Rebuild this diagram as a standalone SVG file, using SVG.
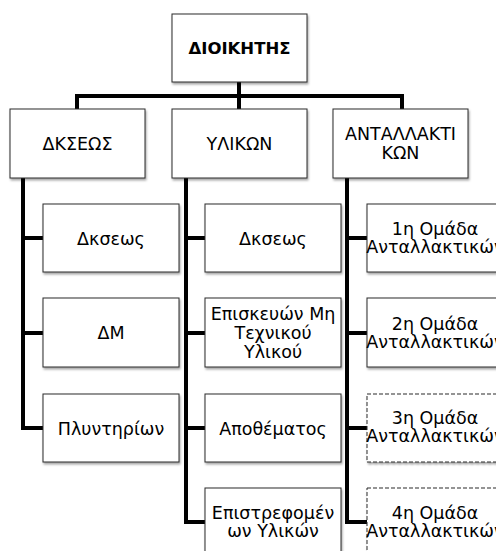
<svg xmlns="http://www.w3.org/2000/svg" width="496" height="551" viewBox="0 0 496 551">
<defs>
<filter id="sh" x="-10%" y="-10%" width="130%" height="140%">
<feDropShadow dx="1" dy="2" stdDeviation="1" flood-color="#000" flood-opacity="0.35"/>
</filter>
<style>
.box{fill:#fff;stroke:#2b2b2b;stroke-width:1;filter:url(#sh)}
.dash{stroke-dasharray:4 2}
.t{font-family:"DejaVu Sans","Liberation Sans",sans-serif;font-size:17.5px;fill:#000;text-anchor:middle}
.b{font-weight:bold;font-size:16.5px}
.ln{fill:none;stroke:#000;stroke-width:4;stroke-linejoin:miter;stroke-linecap:butt}
</style>
</defs>
<rect width="496" height="551" fill="#fff"/>
<g id="connectors">
<path class="ln" d="M239 82 V109"/>
<path class="ln" d="M77 109 V96 H402 V109"/>
<path class="ln" d="M23 178 V428 H43 M23 238 H43 M23 333 H43"/>
<path class="ln" d="M186 178 V522 H205 M186 238 H205 M186 333 H205 M186 428 H205"/>
<path class="ln" d="M347 178 V522 H367 M347 238 H367 M347 333 H367 M347 428 H367"/>
</g>
<g id="n-dioikitis"><rect class="box" x="172" y="14" width="135" height="68"/><text class="t b" x="239.5" y="54">ΔΙΟΙΚΗΤΗΣ</text></g>
<g id="n-dkseos"><rect class="box" x="10" y="109" width="135" height="69"/><text class="t" x="77.5" y="150">ΔΚΣΕΩΣ</text></g>
<g id="n-ylikon"><rect class="box" x="172" y="109" width="135" height="69"/><text class="t" x="239.5" y="150">ΥΛΙΚΩΝ</text></g>
<g id="n-antallaktikon"><rect class="box" x="333" y="109" width="135" height="69"/><text class="t" x="400.5" y="140">ΑΝΤΑΛΛΑΚΤΙ</text><text class="t" x="400.5" y="159">ΚΩΝ</text></g>
<g id="n-c1-dkseos"><rect class="box" x="43" y="204" width="136" height="68"/><text class="t" x="111" y="244.5">Δκσεως</text></g>
<g id="n-c1-dm"><rect class="box" x="43" y="298" width="136" height="69"/><text class="t" x="111" y="339">ΔΜ</text></g>
<g id="n-c1-plyntirion"><rect class="box" x="43" y="394" width="136" height="68"/><text class="t" x="111" y="434.5">Πλυντηρίων</text></g>
<g id="n-c2-dkseos"><rect class="box" x="205" y="204" width="136" height="68"/><text class="t" x="273" y="244.5">Δκσεως</text></g>
<g id="n-c2-episkevon"><rect class="box" x="205" y="298" width="136" height="69"/><text class="t" x="273" y="320">Επισκευών Μη</text><text class="t" x="273" y="339">Τεχνικού</text><text class="t" x="273" y="358">Υλικού</text></g>
<g id="n-c2-apothematos"><rect class="box" x="205" y="394" width="136" height="68"/><text class="t" x="273" y="434.5">Αποθέματος</text></g>
<g id="n-c2-epistrefomenon"><rect class="box" x="205" y="488" width="136" height="69"/><text class="t" x="273" y="519">Επιστρεφομέν</text><text class="t" x="273" y="537">ων Υλικών</text></g>
<g id="n-c3-1"><rect class="box" x="367" y="204" width="136" height="68"/><text class="t" x="435" y="235">1η Ομάδα</text><text class="t" x="435" y="253">Ανταλλακτικών</text></g>
<g id="n-c3-2"><rect class="box" x="367" y="298" width="136" height="69"/><text class="t" x="435" y="329.5">2η Ομάδα</text><text class="t" x="435" y="347.5">Ανταλλακτικών</text></g>
<g id="n-c3-3"><rect class="box dash" x="367" y="394" width="136" height="68"/><text class="t" x="435" y="424">3η Ομάδα</text><text class="t" x="435" y="442">Ανταλλακτικών</text></g>
<g id="n-c3-4"><rect class="box dash" x="367" y="488" width="136" height="69"/><text class="t" x="435" y="518.5">4η Ομάδα</text><text class="t" x="435" y="536.5">Ανταλλακτικών</text></g>
</svg>
